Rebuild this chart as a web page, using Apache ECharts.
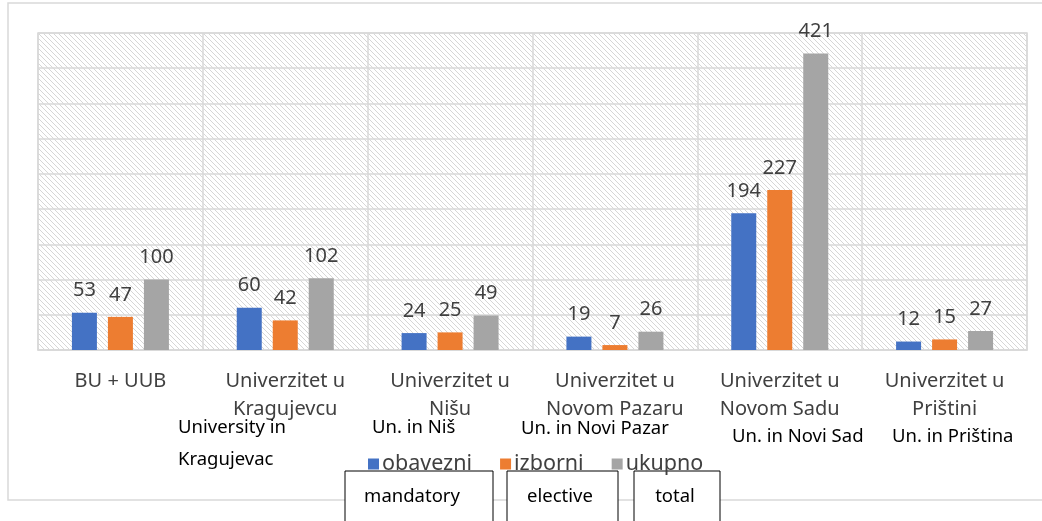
<!DOCTYPE html>
<html>
<head>
<meta charset="utf-8">
<script src="https://cdn.jsdelivr.net/npm/echarts@6/dist/echarts.min.js"></script>
<style>
  html, body { margin: 0; padding: 0; background: #fff; }
  #main { width: 1042px; height: 521px; }
</style>
</head>
<body>
<div id="main"></div>
<script>
var categories = ['BU + UUB', 'Univerzitet u\nKragujevcu', 'Univerzitet u\nNišu', 'Univerzitet u\nNovom Pazaru', 'Univerzitet u\nNovom Sadu', 'Univerzitet u\nPrištini'];
var obavezni = [53, 60, 24, 19, 194, 12];
var izborni = [47, 42, 25, 7, 227, 15];
var ukupno = [100, 102, 49, 26, 421, 27];
var seriesNames = ['obavezni', 'izborni', 'ukupno'];
var englishNames = ['mandatory', 'elective', 'total'];

// diagonal hatch for the plot background
var hatch = document.createElement('canvas');
hatch.width = 5; hatch.height = 5;
var hc = hatch.getContext('2d');
hc.fillStyle = '#ffffff';
hc.fillRect(0, 0, 5, 5);
hc.fillStyle = '#d6d6d6';
for (var i = 0; i < 5; i++) {
  hc.fillRect(i, i, 1, 1);
}

var font = '"Noto Sans", sans-serif';
var labelStyle = { show: true, position: 'top', distance: 12, fontSize: 20, color: '#404040', fontFamily: font };

function note(txt, x, y) {
  return { type: 'text', z: 100, left: x, top: y, style: { text: txt, fontSize: 18.5, fontFamily: font, fill: '#000' } };
}

var chart = echarts.init(document.getElementById('main'));
var option = {
  backgroundColor: '#ffffff',
  animation: false,
  textStyle: { fontFamily: font },
  legend: {
    data: seriesNames,
    left: 368, top: 453,
    padding: 0,
    itemWidth: 11, itemHeight: 11, itemGap: 28,
    icon: 'rect',
    textStyle: { fontSize: 21.5, color: '#404040', padding: [0, 0, 0, -2] }
  },
  grid: {
    left: 38, right: 15, top: 33, bottom: 171,
    show: true,
    borderColor: '#d9d9d9',
    borderWidth: 1.5,
    backgroundColor: { image: hatch, repeat: 'repeat' }
  },
  xAxis: {
    type: 'category',
    data: categories,
    axisLine: { lineStyle: { color: '#d9d9d9', width: 1.5 } },
    axisTick: { show: false },
    splitLine: { show: true, lineStyle: { color: '#d9d9d9', width: 1.5 } },
    axisLabel: { fontSize: 20, color: '#404040', lineHeight: 28, margin: 17, interval: 0, fontFamily: font }
  },
  yAxis: {
    type: 'value',
    min: 0, max: 450, interval: 50,
    axisLabel: { show: false },
    axisLine: { show: false },
    axisTick: { show: false },
    splitLine: { lineStyle: { color: '#d9d9d9', width: 1.5 } }
  },
  series: [
    { name: seriesNames[0], type: 'bar', data: obavezni, barWidth: 25, barGap: '44%', itemStyle: { color: '#4472C4' }, label: labelStyle },
    { name: seriesNames[1], type: 'bar', data: izborni, barWidth: 25, barGap: '44%', itemStyle: { color: '#ED7D31' }, label: labelStyle },
    { name: seriesNames[2], type: 'bar', data: ukupno, barWidth: 25, barGap: '44%', itemStyle: { color: '#A5A5A5' }, label: labelStyle }
  ],
  graphic: [
    { type: 'rect', z: 0, silent: true, shape: { x: 8, y: 3, width: 1100, height: 497 }, style: { fill: 'none', stroke: '#d9d9d9', lineWidth: 1.5 } },
    note('University in', 178, 418),
    note('Kragujevac', 178, 450),
    note('Un. in Niš', 372, 418),
    note('Un. in Novi Pazar', 521, 419),
    note('Un. in Novi Sad', 732, 427),
    note('Un. in Priština', 892, 427),
    { type: 'group', z: 100, children: [
      { type: 'rect', shape: { x: 345, y: 471, width: 148, height: 60 }, style: { fill: '#fff', stroke: '#000', lineWidth: 1 } },
      { type: 'text', x: 412, y: 497, style: { text: englishNames[0], fill: '#000', fontSize: 18.5, fontFamily: font, align: 'center', verticalAlign: 'middle' } },
      { type: 'rect', shape: { x: 507, y: 471, width: 111, height: 60 }, style: { fill: '#fff', stroke: '#000', lineWidth: 1 } },
      { type: 'text', x: 560, y: 497, style: { text: englishNames[1], fill: '#000', fontSize: 18.5, fontFamily: font, align: 'center', verticalAlign: 'middle' } },
      { type: 'rect', shape: { x: 634, y: 471, width: 86, height: 60 }, style: { fill: '#fff', stroke: '#000', lineWidth: 1 } },
      { type: 'text', x: 675, y: 497, style: { text: englishNames[2], fill: '#000', fontSize: 18.5, fontFamily: font, align: 'center', verticalAlign: 'middle' } }
    ] }
  ]
};
chart.setOption(option);
</script>
</body>
</html>
